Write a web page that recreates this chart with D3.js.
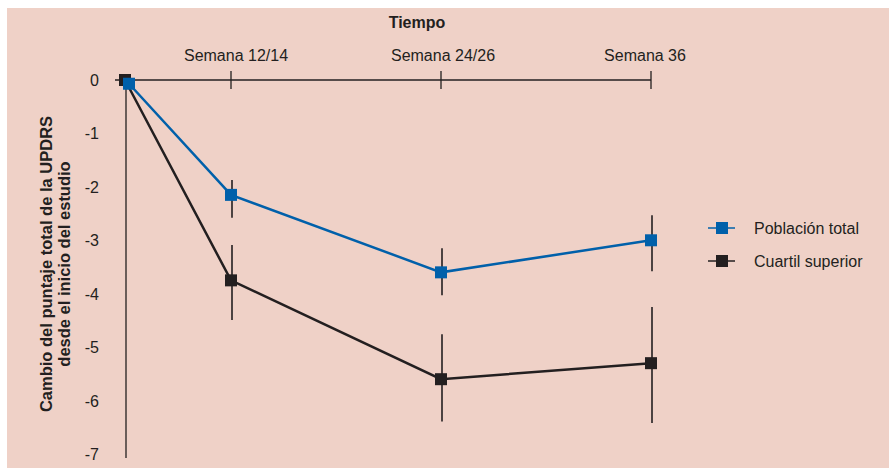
<!DOCTYPE html>
<html>
<head>
<meta charset="utf-8">
<script src="https://cdn.jsdelivr.net/npm/d3@7"></script>
<style>
  body { margin: 0; background: #fff; }
  text { font-family: "Liberation Sans", Arial, sans-serif; fill: #231f20; }
</style>
</head>
<body>
<svg width="889" height="468"></svg>
<script>
const W = 889, H = 468;
const BG = '#efd1c7', INK = '#231f20', BLUE = '#0060aa';

// Datos
const weeks = ['Semana 12/14', 'Semana 24/26', 'Semana 36'];
const yTicks = [0, -1, -2, -3, -4, -5, -6, -7];
const seriesNames = ['Población total', 'Cuartil superior'];
// valor inicial + semanas
const totalBase = -0.07;
const totalValues = [-2.15, -3.6, -3.0];
const totalLow = [-2.58, -4.03, -3.58];
const totalHigh = [-1.87, -3.15, -2.53];
const topBase = 0;
const topValues = [-3.75, -5.6, -5.3];
const topLow = [-4.49, -6.39, -6.42];
const topHigh = [-3.09, -4.76, -4.25];

const svg = d3.select('svg');

// Fondo
svg.append('rect')
    .attr('x', 7).attr('y', 8)
    .attr('width', W - 7).attr('height', H - 8)
    .attr('fill', BG);

const x = d3.scaleBand().domain(weeks).range([126, 756]).padding(0);
const xc = d => x(d) + x.bandwidth() / 2;
const y = d3.scaleLinear().domain([0, -7]).range([80, 454]);

// Eje superior
const labelShift = [5, 2, -6];
svg.append('line')
    .attr('x1', 115).attr('x2', xc(weeks[2]))
    .attr('y1', y(0)).attr('y2', y(0))
    .attr('stroke', INK).attr('stroke-width', 1.3);
weeks.forEach((w, i) => {
    svg.append('line')
        .attr('x1', xc(w)).attr('x2', xc(w))
        .attr('y1', y(0) - 9).attr('y2', y(0) + 9)
        .attr('stroke', INK).attr('stroke-width', 1.3);
    svg.append('text')
        .attr('x', xc(w) + labelShift[i]).attr('y', 61)
        .attr('text-anchor', 'middle')
        .style('font-size', '16px')
        .text(w);
});
svg.append('text')
    .attr('x', 417).attr('y', 28)
    .attr('text-anchor', 'middle')
    .style('font-size', '16px').style('font-weight', 'bold')
    .text('Tiempo');

// Eje vertical
svg.append('line')
    .attr('x1', 126).attr('x2', 126)
    .attr('y1', y(0)).attr('y2', 458)
    .attr('stroke', INK).attr('stroke-width', 1.3);
yTicks.forEach(t => {
    svg.append('text')
        .attr('x', 99).attr('y', y(t) + 6)
        .attr('text-anchor', 'end')
        .style('font-size', '16px')
        .text(t);
});
const yl = svg.append('text')
    .attr('transform', 'translate(52,264) rotate(-90)')
    .attr('text-anchor', 'middle')
    .style('font-size', '16.5px').style('font-weight', 'bold');
yl.append('tspan').attr('x', 0).attr('dy', 0).text('Cambio del puntaje total de la UPDRS');
yl.append('tspan').attr('x', 0).attr('dy', 18).text('desde el inicio del estudio');

function drawSeries(base, vals, lo, hi, color, dx, barColor) {
    // barras de error
    weeks.forEach((w, i) => {
        svg.append('line')
            .attr('x1', xc(w) + 1).attr('x2', xc(w) + 1)
            .attr('y1', y(hi[i])).attr('y2', y(lo[i]))
            .attr('stroke', barColor).attr('stroke-width', 1.6);
    });
    const pts = [[126 + dx, base]].concat(weeks.map((w, i) => [xc(w), vals[i]]));
    svg.append('path')
        .attr('d', d3.line().x(d => d[0]).y(d => y(d[1]))(pts))
        .attr('fill', 'none').attr('stroke', color).attr('stroke-width', 2.5);
    pts.forEach(p => {
        svg.append('rect')
            .attr('x', p[0] - 6).attr('y', y(p[1]) - 6)
            .attr('width', 12).attr('height', 12)
            .attr('fill', color);
    });
}

drawSeries(topBase, topValues, topLow, topHigh, INK, -1, INK);
drawSeries(totalBase, totalValues, totalLow, totalHigh, BLUE, 3, INK);

// Leyenda
const legend = [[seriesNames[0], BLUE, 228], [seriesNames[1], INK, 261]];
legend.forEach(l => {
    svg.append('line')
        .attr('x1', 708).attr('x2', 735)
        .attr('y1', l[2]).attr('y2', l[2])
        .attr('stroke', l[1]).attr('stroke-width', 1.5);
    svg.append('rect')
        .attr('x', 716).attr('y', l[2] - 6)
        .attr('width', 12).attr('height', 12)
        .attr('fill', l[1]);
    svg.append('text')
        .attr('x', 754).attr('y', l[2] + 6)
        .style('font-size', '16px')
        .text(l[0]);
});
</script>
</body>
</html>
